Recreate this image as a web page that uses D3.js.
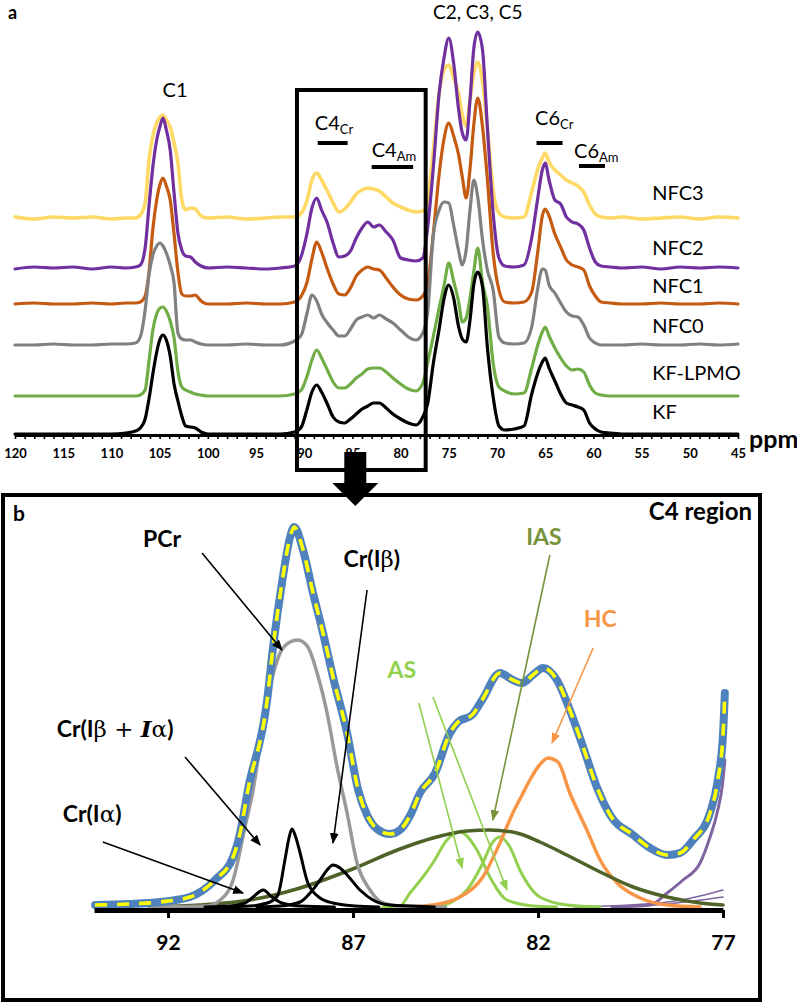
<!DOCTYPE html>
<html><head><meta charset="utf-8">
<script src="https://cdn.jsdelivr.net/npm/d3@7/dist/d3.min.js"></script>
<style>body{margin:0;background:#fff} svg{display:block}</style>
</head><body>
<svg id="c" width="797" height="1003"></svg>
<script>
// ================= DATA : panel a (13C CP/MAS spectra) =================
// shared chemical-shift grid (ppm)
const ppmGrid = [
  120,118,116,114,112,110,108.5,
  107.5,107,106.5,106.1,105.7,105.3,104.95,104.65,104.3,103.9,103.5,103.1,102.7,102.3,101.8,101.3,100.7,100,
  98,96,94,92.5,
  91,90.3,89.7,89.2,88.7,88.2,87.6,87,86.4,85.8,85.2,84.6,84,83.4,82.8,82.2,81.5,80.8,80,79.2,78.4,77.7,
  77.2,76.6,76,75.5,75,74.5,74,73.6,73.2,72.8,72.4,72,71.5,71,70.4,69.8,69.2,
  68.2,67.2,66.4,65.8,65.3,65,64.6,64,63.4,62.8,62.2,61.6,61,60.4,59.8,59.2,58.2,
  57,55,53,51,49,47,45
];
const seriesNames = ["KF","KF-LPMO","NFC0","NFC1","NFC2","NFC3"];
const offsets = [0, 38, 89, 130, 166, 216];   // stacking offsets (intensity units)
const kf = [
  0,0,0,0,0,0,1,
  3,6,15,35,60,82,95,99,94,78,50,33,18,8,7,6,2,0,
  0,0,0,0,
  2,7,25,42,49,42,30,17,12,11,15,20,25,28,31,31,26,20,15,11,9,17,
  30,71,105,135,149,136,108,95,92,114,150,162,147,87,37,8,4,
  5,8,40,60,72,76,66,53,40,31,29,27,24,11,5,2,1,
  0,0,0,0,0,0,0
];
const kfLpmo = [
  0,0,0,0,0,0,0,
  0,1,6,35,66,82,88,89,85,75,58,25,9,6,4,2,1,0,
  0,0,0,0,
  2,6,20,36,46,38,26,14,8,8,12,18,22,27,28,28,24,18,12,7,5,13,
  33,60,88,110,133,115,95,74,78,98,125,148,113,90,33,9,5,
  2,3,28,50,64,69,60,48,38,30,26,27,24,11,3,1,0,
  0,0,0,0,0,0,0
];
const nfc0 = [
  0,0,1,0,0,1,1,
  2,8,35,70,90,99,102,99,92,80,62,12,6,5,5,3,1,0,
  0,1,0,0,
  4,10,32,50,44,31,22,15,9,9,16,25,28,30,27,30,26,22,15,8,5,12,
  32,110,135,143,142,120,95,80,95,135,165,148,105,75,55,8,2,
  1,2,18,55,76,75,60,52,42,33,29,28,20,7,2,0,0,
  0,1,0,0,1,0,1
];
const nfc1 = [
  0,1,0,0,1,0,1,
  1,2,8,32,75,104,120,126,118,104,70,32,10,8,8,9,3,0,
  0,1,0,0,
  2,8,22,45,62,52,35,20,10,9,16,28,34,37,35,34,26,17,9,5,4,8,
  20,71,130,165,181,168,150,127,106,135,180,206,177,125,51,14,2,
  1,2,12,50,88,95,88,70,57,44,39,37,34,18,8,2,1,
  0,0,1,0,0,1,0
];
const nfc2 = [
  -1,1,0,1,-1,1,0,
  1,3,20,62,101,128,142,150,138,118,75,35,18,12,11,6,2,0,
  1,0,-1,0,
  2,12,35,60,70,58,45,25,11,12,17,30,40,46,41,43,36,28,10,8,7,10,
  40,101,175,210,230,205,160,135,128,168,220,236,218,141,55,10,2,
  1,3,30,68,98,105,88,68,64,51,46,44,38,20,6,2,1,
  0,1,-1,1,0,1,0
];
const nfc3 = [
  1,-1,1,0,1,-1,0,
  0,3,15,58,82,95,101,103,98,91,75,55,18,8,10,9,2,0,
  1,-1,0,1,
  1,5,18,38,45,38,27,15,6,9,16,24,28,30,29,27,21,15,11,8,6,7,
  18,68,125,148,153,140,125,103,92,118,145,156,136,90,28,5,1,
  0,1,26,48,60,65,56,48,43,38,35,32,26,13,4,1,0,
  1,-1,0,1,-1,1,0
];
const seriesVals = [kf, kfLpmo, nfc0, nfc1, nfc2, nfc3];
const axisATicks = d3.range(45, 121, 1);

// ================= DATA : panel b (C4 region deconvolution) =================
const compositePts = [[93.97,2],[93.03,3],[92.22,5],[91.41,10],[90.73,27],[90.24,50],[90.05,74],[89.84,117],[89.32,207],[89.16,260],[88.92,324],[88.70,370],[88.59,380],[88.35,357],[88.08,314],[87.81,274],[87.54,230],[87.16,174],[86.86,117],[86.62,92],[86.35,78],[86.0,73],[85.73,77],[85.45,92],[85.19,114],[84.78,134],[84.38,174],[84.16,185],[83.78,192],[83.51,207],[83.03,234],[82.68,227],[82.43,224],[82.14,232],[81.86,239],[81.49,227],[81.14,197],[80.78,160],[80.41,120],[80.05,92],[79.43,72],[78.97,59],[78.51,52],[78.16,54],[77.81,67],[77.35,94],[77.14,127],[77.0,172],[76.95,214]];
const pcrPts = [[92.5,0],[90.95,1],[90.59,7],[90.24,27],[89.92,80],[89.70,117],[89.46,174],[89.24,220],[88.97,254],[88.70,265],[88.49,267],[88.22,260],[87.97,234],[87.70,194],[87.43,140],[87.16,94],[86.89,44],[86.54,17],[86.19,4],[85.73,1],[84.5,0]];
const crIaPts = [[91.0,0],[90.32,1],[89.92,4],[89.70,10],[89.43,17],[89.19,10],[88.92,4],[88.43,1],[87.5,0]];
const crIbIaPts = [[90.5,0],[89.78,1],[89.24,5],[89.03,12],[88.84,47],[88.73,69],[88.65,78],[88.54,69],[88.43,54],[88.22,24],[87.89,9],[87.54,4],[86.95,1],[86.3,0]];
const crIbPts = [[89.6,0],[88.97,1],[88.43,5],[88.16,14],[87.89,27],[87.70,37],[87.54,42],[87.35,39],[87.16,32],[86.81,17],[86.46,7],[86.0,2],[85.46,1],[84.8,0]];
const iasPts = [[92.5,0],[91.14,2],[89.78,7],[88.43,19],[87.08,37],[85.73,58],[84.84,69],[83.92,76],[83.30,77],[82.57,74],[81.95,65],[81.22,52],[80.32,35],[79.43,20],[78.51,10],[77.62,4],[77.0,2]];
const as1Pts = [[86.2,0],[85.73,1],[85.46,14],[85.11,30],[84.84,44],[84.46,67],[84.11,75],[83.65,57],[83.30,30],[82.84,7],[82.14,1],[81.5,0]];
const as2Pts = [[85.2,0],[84.65,1],[84.24,7],[83.92,17],[83.49,44],[83.24,64],[83.03,70],[82.76,60],[82.49,37],[81.95,10],[81.22,2],[80.32,0]];
const hcPts = [[85.5,0],[84.84,2],[84.11,10],[83.49,30],[83.03,64],[82.68,94],[82.43,112],[82.22,127],[81.96,142],[81.73,149],[81.46,145],[81.14,114],[80.68,77],[80.32,47],[79.86,24],[79.24,9],[78.51,2],[77.62,0]];
const c3Pts = [[80.0,0],[78.97,2],[78.51,14],[78.08,27],[77.62,44],[77.35,70],[77.16,94],[77.0,127],[76.95,147]];
const tail1Pts = [[81.0,0],[79.5,2],[78.3,6],[77.5,12],[77.0,17]];
const tail2Pts = [[80.0,0],[78.8,2],[77.8,6],[77.0,10]];
const axisBTicks = [92, 87, 82, 77];

// ================= STYLE / LAYOUT =================
const FONT = "Lato, 'Open Sans', sans-serif";
const SERIF = "'DejaVu Serif', 'Liberation Serif', serif";
const colorsA = ["#000000", "#70ad47", "#808080", "#c55a11", "#7030a0", "#ffd966"];

const svg = d3.select("#c");
const defs = svg.append("defs");
function marker(id, color) {
  defs.append("marker").attr("id", id).attr("viewBox", "0 0 10 8")
    .attr("refX", 9).attr("refY", 4).attr("markerWidth", 11).attr("markerHeight", 9)
    .attr("markerUnits", "userSpaceOnUse").attr("orient", "auto")
    .append("path").attr("d", "M0,0L10,4L0,8Z").attr("fill", color);
}
marker("mk", "#000"); marker("mas", "#92d050"); marker("mias", "#77933c"); marker("mhc", "#f79646");

// ---------------- Panel a ----------------
const xA = d3.scaleLinear().domain([120, 45]).range([15, 738]);
const yA = d3.scaleLinear().domain([0, 100]).range([434, 334]);

const gA = svg.append("g");
[5, 4, 3, 2, 1, 0].forEach(k => {
  const ln = d3.line().x((d, i) => xA(ppmGrid[i])).y(d => yA(d + offsets[k])).curve(d3.curveMonotoneX);
  gA.append("path").attr("d", ln(seriesVals[k])).attr("fill", "none")
    .attr("stroke", colorsA[k]).attr("stroke-width", k === 5 ? 3.6 : 3.2)
    .attr("stroke-linejoin", "round").attr("stroke-linecap", "round");
});

const axA = d3.axisBottom(xA).tickValues(axisATicks).tickSize(4).tickSizeOuter(0).tickPadding(10)
  .tickFormat(d => d % 5 === 0 ? String(d) : "");
const gAx = svg.append("g").attr("transform", "translate(0,435)").call(axA);
gAx.select(".domain").attr("stroke-width", 3);
gAx.selectAll(".tick line").attr("stroke-width", 1.6);
gAx.selectAll("text").attr("font-family", FONT).attr("font-weight", "bold").attr("font-size", 13).attr("fill", "#000");

svg.append("text").attr("x", 749).attr("y", 448).attr("font-family", FONT).attr("font-weight", "bold")
  .attr("font-size", 25).text("ppm");

// series labels
const labelLift = [15, 16, 12, 11, 13, 18];
seriesNames.forEach((n, k) => {
  svg.append("text").attr("x", xA(53.9)).attr("y", yA(offsets[k] + labelLift[k]))
    .attr("font-family", FONT).attr("font-size", 20).text(n);
});

// peak labels
function lab(txt, ppm, h, anchor, size) {
  return svg.append("text").attr("x", xA(ppm)).attr("y", yA(h)).attr("text-anchor", anchor || "start")
    .attr("font-family", FONT).attr("font-size", size || 20).text(txt);
}
lab("C1", 103.4, 337, "middle");
lab("C2, C3, C5", 72.0, 415, "middle", 19);
function subLab(main, sub, ppm, h) {
  const t = lab(main, ppm, h);
  t.append("tspan").attr("font-size", 13).attr("dy", 4).text(sub);
}
subLab("C4", "Cr", 88.9, 304);
subLab("C4", "Am", 83.0, 277);
subLab("C6", "Cr", 66.05, 309);
subLab("C6", "Am", 62.0, 276);
[[88.6, 85.5, 291], [83.0, 78.7, 267], [65.9, 63.2, 291], [61.5, 58.8, 268]].forEach(b => {
  svg.append("line").attr("x1", xA(b[0])).attr("x2", xA(b[1])).attr("y1", yA(b[2])).attr("y2", yA(b[2]))
    .attr("stroke", "#000").attr("stroke-width", 4);
});

// zoom box + big arrow
svg.append("rect").attr("x", xA(90.75)).attr("y", yA(344)).attr("width", xA(77.4) - xA(90.75))
  .attr("height", yA(-36) - yA(344)).attr("fill", "none").attr("stroke", "#000").attr("stroke-width", 4);
const cx = xA(84.7);
svg.append("path").attr("d", `M${cx-11},452H${cx+11}V483H${cx+23}L${cx},506L${cx-23},483H${cx-11}Z`).attr("fill", "#000");

svg.append("text").attr("x", 8).attr("y", 19).attr("font-family", FONT).attr("font-weight", "bold")
  .attr("font-size", 18).text("a");

// ---------------- Panel b ----------------
svg.append("rect").attr("x", 3).attr("y", 495).attr("width", 757).attr("height", 505)
  .attr("fill", "none").attr("stroke", "#000").attr("stroke-width", 4);
svg.append("text").attr("x", 13).attr("y", 521).attr("font-family", FONT).attr("font-weight", "bold")
  .attr("font-size", 21).text("b");
svg.append("text").attr("x", 752).attr("y", 520).attr("text-anchor", "end").attr("font-family", FONT)
  .attr("font-weight", "bold").attr("font-size", 24).text("C4 region");

const xB = d3.scaleLinear().domain([94, 77]).range([94, 723]);
const yB = d3.scaleLinear().domain([0, 100]).range([907, 807]);
const lineB = d3.line().x(d => xB(d[0])).y(d => yB(d[1])).curve(d3.curveMonotoneX);
const gB = svg.append("g");
function curve(pts, color, w, extra) {
  const p = gB.append("path").attr("d", lineB(pts)).attr("fill", "none").attr("stroke", color)
    .attr("stroke-width", w).attr("stroke-linejoin", "round").attr("stroke-linecap", "round");
  if (extra) extra(p);
  return p;
}
curve(tail1Pts, "#8064a2", 1.5);
curve(tail2Pts, "#8064a2", 1.5);
curve(c3Pts, "#8064a2", 3);
curve(as1Pts, "#92d050", 3);
curve(as2Pts, "#92d050", 3);
curve(hcPts, "#f79646", 3.5);
curve(iasPts, "#4f6228", 3.5);
curve(pcrPts, "#999999", 3.5);
curve(crIaPts, "#000", 3);
curve(crIbPts, "#000", 3);
curve(crIbIaPts, "#000", 3);
curve(compositePts, "#4f81bd", 8);
curve(compositePts, "#ffff00", 3.6, p => p.attr("stroke-dasharray", "12 10").attr("stroke-linecap", "butt"));

const axB = d3.axisBottom(xB).tickValues(axisBTicks).tickSize(8).tickSizeOuter(0).tickPadding(17).tickFormat(d3.format("d"));
const gBx = svg.append("g").attr("transform", "translate(0,910)").call(axB);
gBx.select(".domain").attr("stroke-width", 5);
gBx.selectAll(".tick line").attr("stroke-width", 3);
gBx.selectAll("text").attr("font-family", FONT).attr("font-weight", "bold").attr("font-size", 21).attr("fill", "#000");

// annotations (anchored in data coordinates)
function arrow(a, b, color, mk) {
  svg.append("line").attr("x1", xB(a[0])).attr("y1", yB(a[1])).attr("x2", xB(b[0])).attr("y2", yB(b[1]))
    .attr("stroke", color).attr("stroke-width", 1.6).attr("marker-end", `url(#${mk})`);
}
arrow([91.08, 354], [88.92, 257], "#000", "mk");
arrow([86.62, 317], [87.54, 64], "#000", "mk");
arrow([91.54, 150], [89.51, 62], "#000", "mk");
arrow([93.76, 65], [89.97, 14], "#000", "mk");
arrow([85.22, 204], [84.05, 39], "#92d050", "mas");
arrow([84.84, 210], [82.84, 17], "#92d050", "mas");
arrow([81.68, 352], [83.22, 87], "#77933c", "mias");
arrow([80.51, 259], [81.62, 164], "#f79646", "mhc");

function ann(ppm, h, color, size) {
  return svg.append("text").attr("x", xB(ppm)).attr("y", yB(h)).attr("text-anchor", "middle")
    .attr("font-family", FONT).attr("font-weight", "bold").attr("font-size", size || 23).attr("fill", color);
}
ann(92.16, 360, "#000").text("PCr");
const t1 = ann(86.49, 340, "#000");
t1.append("tspan").text("Cr(I");
t1.append("tspan").attr("font-family", SERIF).attr("font-weight", "normal").text("β");
t1.append("tspan").text(")");
const t2 = ann(93.43, 170, "#000");
t2.append("tspan").text("Cr(I");
t2.append("tspan").attr("font-family", SERIF).attr("font-weight", "normal").text("β + ");
t2.append("tspan").attr("font-family", SERIF).attr("font-style", "italic").text("I");
t2.append("tspan").attr("font-family", SERIF).attr("font-weight", "normal").text("α");
t2.append("tspan").text(")");
const t3 = ann(94.05, 85, "#000");
t3.append("tspan").text("Cr(I");
t3.append("tspan").attr("font-family", SERIF).attr("font-weight", "normal").text("α");
t3.append("tspan").text(")");
ann(85.68, 229, "#92d050").text("AS");
ann(81.84, 362, "#77933c").text("IAS");
ann(80.32, 280, "#f79646").text("HC");
</script>
</body></html>
